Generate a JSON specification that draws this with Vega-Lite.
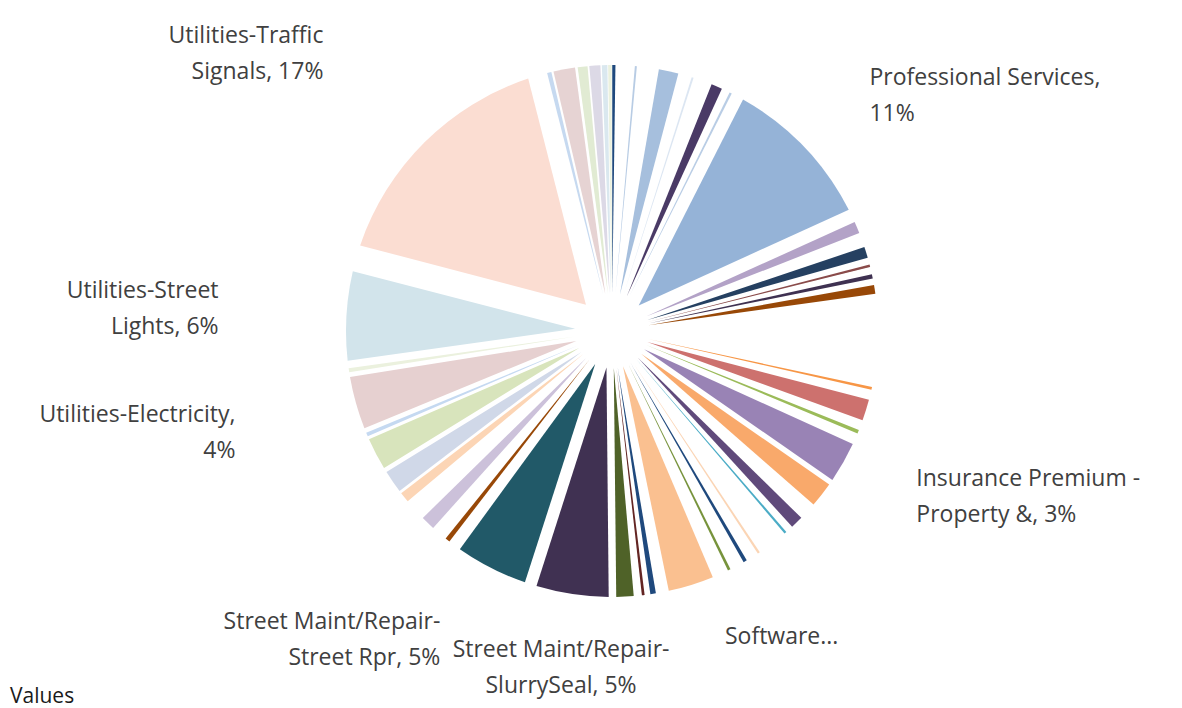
{
  "$schema": "https://vega.github.io/schema/vega-lite/v6.json",
  "width": 1140,
  "height": 662,
  "autosize": {"type": "none"},
  "padding": {"left": 42, "top": 0, "right": 0, "bottom": 46},
  "background": "white",
  "config": {"view": {"stroke": null}},
  "title": {"text": "Values", "orient": "bottom", "anchor": "start", "frame": "group", "font": "Open Sans", "fontSize": 21, "fontWeight": "normal", "color": "#1a1a1a", "offset": -12, "dx": -32},
  "data": {"values": [
    {"i": 1, "cat": "s01", "pct": 0.222, "label": ""},
    {"i": 2, "cat": "w01", "pct": 1.139, "label": ""},
    {"i": 3, "cat": "s02", "pct": 0.139, "label": ""},
    {"i": 4, "cat": "w02", "pct": 1.222, "label": ""},
    {"i": 5, "cat": "s03", "pct": 1.389, "label": ""},
    {"i": 6, "cat": "w03", "pct": 0.722, "label": ""},
    {"i": 7, "cat": "s04", "pct": 0.139, "label": ""},
    {"i": 8, "cat": "w04", "pct": 1.083, "label": ""},
    {"i": 9, "cat": "s05", "pct": 0.778, "label": ""},
    {"i": 10, "cat": "w05", "pct": 0.444, "label": ""},
    {"i": 11, "cat": "s06", "pct": 0.167, "label": ""},
    {"i": 12, "cat": "Professional Services", "pct": 10.778, "label": "Professional Services,\n11%"},
    {"i": 13, "cat": "s07", "pct": 0.833, "label": ""},
    {"i": 14, "cat": "w06", "pct": 0.778, "label": ""},
    {"i": 15, "cat": "s08", "pct": 0.778, "label": ""},
    {"i": 16, "cat": "w07", "pct": 0.361, "label": ""},
    {"i": 17, "cat": "s09", "pct": 0.167, "label": ""},
    {"i": 18, "cat": "w08", "pct": 0.417, "label": ""},
    {"i": 19, "cat": "s10", "pct": 0.306, "label": ""},
    {"i": 20, "cat": "w09", "pct": 0.333, "label": ""},
    {"i": 21, "cat": "s11", "pct": 0.611, "label": ""},
    {"i": 22, "cat": "w10", "pct": 5.556, "label": ""},
    {"i": 23, "cat": "s12", "pct": 0.194, "label": ""},
    {"i": 24, "cat": "w11", "pct": 0.5, "label": ""},
    {"i": 25, "cat": "s13", "pct": 1.5, "label": ""},
    {"i": 26, "cat": "w12", "pct": 0.5, "label": ""},
    {"i": 27, "cat": "s14", "pct": 0.25, "label": ""},
    {"i": 28, "cat": "w13", "pct": 0.472, "label": ""},
    {"i": 29, "cat": "Insurance Premium - Property &", "pct": 2.889, "label": "Insurance Premium -\nProperty &, 3%"},
    {"i": 30, "cat": "s15", "pct": 1.778, "label": ""},
    {"i": 31, "cat": "w14", "pct": 0.889, "label": ""},
    {"i": 32, "cat": "s16", "pct": 0.889, "label": ""},
    {"i": 33, "cat": "w15", "pct": 0.389, "label": ""},
    {"i": 34, "cat": "s17", "pct": 0.167, "label": ""},
    {"i": 35, "cat": "w16", "pct": 1.833, "label": ""},
    {"i": 36, "cat": "s18", "pct": 0.167, "label": ""},
    {"i": 37, "cat": "w17", "pct": 0.75, "label": ""},
    {"i": 38, "cat": "s19", "pct": 0.25, "label": ""},
    {"i": 39, "cat": "w18", "pct": 0.861, "label": ""},
    {"i": 40, "cat": "s20", "pct": 0.194, "label": ""},
    {"i": 41, "cat": "w19", "pct": 0.75, "label": ""},
    {"i": 42, "cat": "Software", "pct": 3.222, "label": "Software..."},
    {"i": 43, "cat": "w20", "pct": 0.528, "label": ""},
    {"i": 44, "cat": "s21", "pct": 0.389, "label": ""},
    {"i": 45, "cat": "w21", "pct": 0.306, "label": ""},
    {"i": 46, "cat": "s22", "pct": 0.194, "label": ""},
    {"i": 47, "cat": "w22", "pct": 0.389, "label": ""},
    {"i": 48, "cat": "s23", "pct": 1.222, "label": ""},
    {"i": 49, "cat": "Street Maint/Repair-SlurrySeal", "pct": 5.111, "label": "Street Maint/Repair-\nSlurrySeal, 5%"},
    {"i": 50, "cat": "Street Maint/Repair-Street Rpr", "pct": 5.111, "label": "Street Maint/Repair-\nStreet Rpr, 5%"},
    {"i": 51, "cat": "w23", "pct": 0.389, "label": ""},
    {"i": 52, "cat": "s24", "pct": 0.333, "label": ""},
    {"i": 53, "cat": "w24", "pct": 0.889, "label": ""},
    {"i": 54, "cat": "s25", "pct": 1.0, "label": ""},
    {"i": 55, "cat": "w25", "pct": 1.222, "label": ""},
    {"i": 56, "cat": "s26", "pct": 0.722, "label": ""},
    {"i": 57, "cat": "s27", "pct": 1.611, "label": ""},
    {"i": 58, "cat": "s28", "pct": 2.278, "label": ""},
    {"i": 59, "cat": "s29", "pct": 0.278, "label": ""},
    {"i": 60, "cat": "Utilities-Electricity", "pct": 3.722, "label": "Utilities-Electricity,\n4%"},
    {"i": 61, "cat": "s30", "pct": 0.278, "label": ""},
    {"i": 62, "cat": "Utilities-Street Lights", "pct": 6.278, "label": "Utilities-Street\nLights, 6%"},
    {"i": 63, "cat": "Utilities-Traffic Signals", "pct": 17.0, "label": "Utilities-Traffic\nSignals, 17%"},
    {"i": 64, "cat": "s31", "pct": 0.306, "label": ""},
    {"i": 65, "cat": "s32", "pct": 1.528, "label": ""},
    {"i": 66, "cat": "s33", "pct": 0.694, "label": ""},
    {"i": 67, "cat": "s34", "pct": 0.778, "label": ""},
    {"i": 68, "cat": "s35", "pct": 0.389, "label": ""},
    {"i": 69, "cat": "s36", "pct": 0.25, "label": ""}
  ]},
  "encoding": {
    "theta": {"field": "pct", "type": "quantitative", "stack": true},
    "order": {"field": "i", "type": "quantitative"}
  },
  "layer": [
    {
      "mark": {"type": "arc", "innerRadius": 37, "outerRadius": 266,
        "padAngle": {"expr": "2*asin(38*sin(datum.pct*PI/100)/sqrt(37*37+266*266))"}},
      "encoding": {
        "color": {"field": "cat", "type": "nominal", "legend": null,
          "scale": {
            "domain": ["s01","w01","s02","w02","s03","w03","s04","w04","s05","w05","s06","Professional Services","s07","w06","s08","w07","s09","w08","s10","w09","s11","w10","s12","w11","s13","w12","s14","w13","Insurance Premium - Property &","s15","w14","s16","w15","s17","w16","s18","w17","s19","w18","s20","w19","Software","w20","s21","w21","s22","w22","s23","Street Maint/Repair-SlurrySeal","Street Maint/Repair-Street Rpr","w23","s24","w24","s25","w25","s26","s27","s28","s29","Utilities-Electricity","s30","Utilities-Street Lights","Utilities-Traffic Signals","s31","s32","s33","s34","s35","s36"],
            "range": ["#1F497D","#FFFFFF","#B8CCE4","#FFFFFF","#A6BFDD","#FFFFFF","#DCE6F2","#FFFFFF","#4A3A66","#FFFFFF","#B9CDE5","#95B3D7","#B3A2C7","#FFFFFF","#254061","#FFFFFF","#8A4B4A","#FFFFFF","#3F3151","#FFFFFF","#984807","#FFFFFF","#F79646","#FFFFFF","#CD716E","#FFFFFF","#9BBB59","#FFFFFF","#9983B5","#F9A96B","#FFFFFF","#604A7B","#FFFFFF","#4BACC6","#FFFFFF","#FBD5B5","#FFFFFF","#1F497D","#FFFFFF","#77933C","#FFFFFF","#FAC090","#FFFFFF","#1F497D","#FFFFFF","#632523","#FFFFFF","#4F6228","#403152","#215968","#FFFFFF","#984807","#FFFFFF","#CCC1DA","#FFFFFF","#FCD5B5","#D0D8E8","#D8E4BC","#C5D9F1","#E6D0D0","#EBF1DE","#D2E4EB","#FBDDD2","#C6D9F0","#E6D3D3","#E1EBD3","#DCD9E6","#DAE8EF","#EBF1DE"]
          }}
      }
    },
    {
      "mark": {"type": "text", "font": "Open Sans", "fontSize": 23, "color": "#404040", "lineBreak": "\n", "lineHeight": 36, "baseline": "middle", "dy": -18,
        "radius": {"expr": "1/sqrt(pow(sin((datum.pct_start+datum.pct_end)*PI/100)/(sin((datum.pct_start+datum.pct_end)*PI/100)>0?(cos((datum.pct_start+datum.pct_end)*PI/100)>0?420:335):380),2)+pow(cos((datum.pct_start+datum.pct_end)*PI/100)/(cos((datum.pct_start+datum.pct_end)*PI/100)>0?(sin((datum.pct_start+datum.pct_end)*PI/100)>0?290:400):340),2))"},
        "align": {"expr": "(datum.pct_start+datum.pct_end)/2 < 47 ? 'left' : ((datum.pct_start+datum.pct_end)/2 < 55.6 ? 'center' : 'right')"},
        "dx": {"expr": "(datum.pct_start+datum.pct_end)/2 < 47 ? 12 : ((datum.pct_start+datum.pct_end)/2 < 55.6 ? 0 : -14)"}},
      "encoding": {
        "text": {"field": "label", "type": "nominal"}
      }
    }
  ]
}
